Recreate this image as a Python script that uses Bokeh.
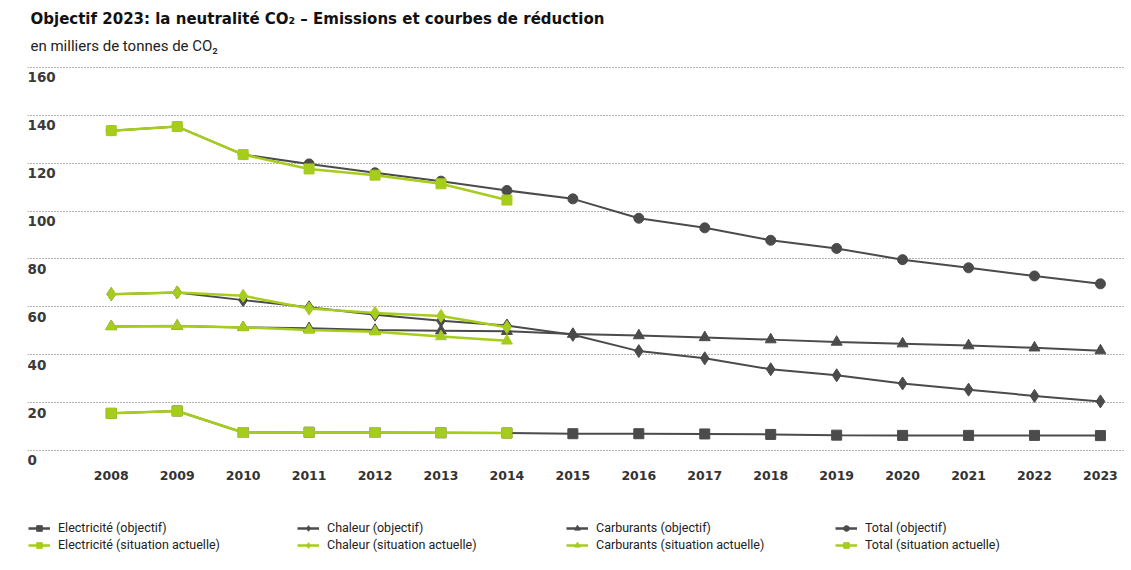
from bokeh.plotting import figure
from bokeh.layouts import column
from bokeh.models import FixedTicker, Legend, LegendItem, Title, Range1d
from bokeh.core.properties import value
from bokeh.embed import file_html
from bokeh.resources import INLINE

# ---- data ----
years = list(range(2008, 2024))
years_act = list(range(2008, 2015))

elec_obj = [15.5, 16.5, 7.5, 7.6, 7.5, 7.4, 7.3, 7.0, 7.0, 6.9, 6.7, 6.4, 6.3, 6.3, 6.3, 6.2]
elec_act = [15.5, 16.5, 7.5, 7.6, 7.5, 7.4, 7.3]

chal_obj = [65.3, 66.0, 62.8, 59.8, 56.7, 54.2, 52.2, 48.3, 41.5, 38.5, 33.9, 31.4, 28.0, 25.4, 22.8, 20.5]
chal_act = [65.3, 66.0, 64.6, 59.3, 57.4, 56.2, 51.5]

carb_obj = [51.8, 52.0, 51.4, 51.0, 50.3, 50.0, 49.8, 48.6, 48.0, 47.2, 46.3, 45.3, 44.6, 43.8, 42.9, 41.7]
carb_act = [51.8, 52.0, 51.4, 50.3, 49.6, 47.6, 45.8]

tot_obj = [133.6, 135.3, 123.6, 119.7, 116.0, 112.5, 108.6, 105.1, 97.0, 93.0, 87.8, 84.4, 79.7, 76.3, 72.9, 69.6]
tot_act = [133.6, 135.3, 123.6, 117.6, 115.0, 111.4, 104.6]

y_ticks = [0, 20, 40, 60, 80, 100, 120, 140, 160]
x_ticks = years

labels_obj = ["Electricité (objectif)", "Chaleur (objectif)", "Carburants (objectif)", "Total (objectif)"]
labels_act = ["Electricité (situation actuelle)", "Chaleur (situation actuelle)",
              "Carburants (situation actuelle)", "Total (situation actuelle)"]

DARK = "#4b4b4b"
GREEN = "#a6cc1c"
X0, X1 = 2006.73, 2023.38
Y0, Y1 = -6.7, 162.9

series_obj = [elec_obj, chal_obj, carb_obj, tot_obj]
series_act = [elec_act, chal_act, carb_act, tot_act]
markers_obj = ["square", "diamond", "triangle", "circle"]
markers_act = ["square", "diamond", "triangle", "square"]
sizes = [10, 13, 11, 10]

W = 1125
p = figure(width=W, height=500, x_range=(X0, X1), y_range=(Y0, Y1),
           output_backend="svg", toolbar_location=None,
           min_border_left=27, min_border_right=0, min_border_top=60, min_border_bottom=34)
p.outline_line_color = None

# titles
p.add_layout(Title(text="en milliers de tonnes de CO₂", text_font="Roboto",
                   text_font_size="15px", text_font_style="normal", text_color="#222",
                   align="left", offset=3, standoff=12), "above")
p.add_layout(Title(text="Objectif 2023: la neutralité CO₂ – Emissions et courbes de réduction",
                   text_font="DejaVu Sans", text_font_size="15px", text_font_style="bold",
                   text_color="#111", align="left", offset=3, standoff=2), "above")

# axes / grid
p.yaxis.visible = False
p.xgrid.visible = False
p.ygrid.ticker = FixedTicker(ticks=y_ticks)
p.ygrid.grid_line_color = "#666666"
p.ygrid.grid_line_dash = "1 2"
p.ygrid.grid_line_width = 1
xa = p.xaxis[0]
xa.ticker = FixedTicker(ticks=x_ticks)
xa.axis_line_color = None
xa.major_tick_line_color = None
xa.minor_tick_line_color = None
xa.major_label_text_font = "DejaVu Sans"
xa.major_label_text_font_size = "12.5px"
xa.major_label_text_font_style = "bold"
xa.major_label_text_color = "#333"
xa.major_label_standoff = -2

# y tick labels placed below the gridlines
p.text(x=[X0] * len(y_ticks), y=y_ticks, text=[str(t) for t in y_ticks],
       text_baseline="top", text_align="left", x_offset=0, y_offset=5,
       text_font=value("DejaVu Sans"), text_font_size="13.5px", text_font_style="bold",
       text_color="#3a3a3a")

for vals, m, s in zip(series_obj, markers_obj, sizes):
    p.line(years, vals, line_color=DARK, line_width=2)
    p.scatter(years, vals, marker=m, size=s, fill_color=DARK, line_color=DARK)
for vals, m, s in zip(series_act, markers_act, sizes):
    p.line(years_act, vals, line_color=GREEN, line_width=2.5)
    p.scatter(years_act, vals, marker=m, size=s, fill_color=GREEN, line_color=GREEN)

# ---- legend strip (same series, drawn off-range so only the legend shows) ----
lg = figure(width=W, height=64, x_range=Range1d(X0, X1), y_range=Range1d(1000, 1001),
            output_backend="svg", toolbar_location=None,
            min_border_left=27, min_border_right=0, min_border_top=0, min_border_bottom=0)
lg.outline_line_color = None
lg.axis.visible = False
lg.grid.visible = False
items = []
for i in range(4):
    l1 = lg.line(years, series_obj[i], line_color=DARK, line_width=2.5)
    s1 = lg.scatter(years, series_obj[i], marker=markers_obj[i], size=sizes[i], fill_color=DARK, line_color=DARK)
    l2 = lg.line(years_act, series_act[i], line_color=GREEN, line_width=2.5)
    s2 = lg.scatter(years_act, series_act[i], marker=markers_act[i], size=sizes[i], fill_color=GREEN, line_color=GREEN)
    items.append(LegendItem(label=labels_obj[i], renderers=[l1, s1]))
    items.append(LegendItem(label=labels_act[i], renderers=[l2, s2]))

legend = Legend(items=items, nrows=2, orientation="vertical", location=(1, 12),
                label_text_font="Roboto", label_text_font_size="12.5px", label_text_color="#222",
                glyph_width=22, glyph_height=14, label_height=14, label_width=237,
                label_standoff=8, spacing=2, padding=0, margin=0,
                border_line_color=None, background_fill_alpha=0)
lg.add_layout(legend, "center")

layout = column(p, lg, spacing=0)
open("out.html", "w").write(file_html(layout, INLINE))
